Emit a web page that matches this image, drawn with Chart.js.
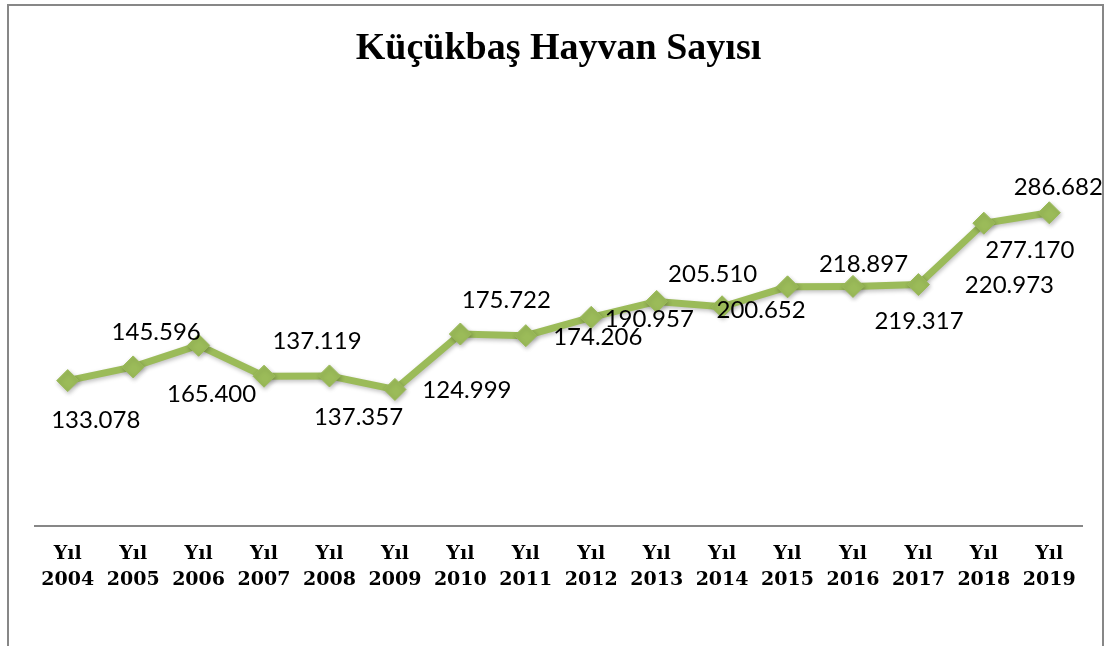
<!DOCTYPE html>
<html><head><meta charset="utf-8">
<script src="https://cdn.jsdelivr.net/npm/chart.js@4"></script>
<style>html,body{margin:0;padding:0;background:#fff}#wrap{width:1109px;height:646px;position:relative}</style>
</head><body><div id="wrap"><canvas id="c" width="1109" height="646"></canvas></div>
<script>
const categoryPrefix = "Yıl";
const years = ["2004","2005","2006","2007","2008","2009","2010","2011","2012","2013","2014","2015","2016","2017","2018","2019"];
const values = [133.078,145.596,165.400,137.119,137.357,124.999,175.722,174.206,190.957,205.510,200.652,218.897,219.317,220.973,277.170,286.682];
const valueLabels = ["133.078","145.596","165.400","137.119","137.357","124.999","175.722","174.206","190.957","205.510","200.652","218.897","219.317","220.973","277.170","286.682"];
const chartTitle = "Küçükbaş Hayvan Sayısı";
// label placement offsets (layout only)
const labelOffsets = [[28,40],[23,-35],[13,49],[53,-35],[29,41],[72,1],[46,-34],[72,2],[58,2],[56,-27],[39,3],[76,-23],[66,35],[91,1],[46,27],[9,-26]];

const labels = years.map(y => [categoryPrefix, y]);
const GREEN = '#9BBB59';

const framePlugin = {
  id:'frame',
  beforeDraw(chart){
    const ctx = chart.ctx;
    ctx.save();
    ctx.fillStyle='#fff'; ctx.fillRect(0,0,chart.width,chart.height);
    ctx.strokeStyle='#878787'; ctx.lineWidth=2;
    ctx.strokeRect(8,5,1095,700);
    ctx.restore();
  }
};
const labelPlugin = {
  id:'vlabels',
  afterDatasetsDraw(chart){
    const ctx = chart.ctx;
    const meta = chart.getDatasetMeta(0);
    ctx.save();
    ctx.font = '24px Lato';
    ctx.fillStyle = '#000';
    ctx.textAlign='center'; ctx.textBaseline='middle';
    meta.data.forEach((pt,i)=>{
      const o = labelOffsets[i];
      ctx.fillText(valueLabels[i], pt.x+o[0], pt.y+o[1]);
    });
    ctx.restore();
  }
};
const shadowPlugin = {
  id:'shadow',
  beforeDatasetsDraw(chart){ const c=chart.ctx; c.save(); c.shadowColor='rgba(0,0,0,0.25)'; c.shadowBlur=4; c.shadowOffsetX=1; c.shadowOffsetY=2; },
  afterDatasetsDraw(chart){ chart.ctx.restore(); }
};

new Chart(document.getElementById('c'), {
  type:'line',
  data:{ labels, datasets:[{ data: values, borderColor:GREEN, backgroundColor:GREEN, borderWidth:7,
    pointStyle:'rectRot', pointRadius:11, pointHoverRadius:11, pointBackgroundColor:GREEN, pointBorderColor:GREEN, pointBorderWidth:1, tension:0, fill:false }]},
  options:{
    responsive:false, animation:false, devicePixelRatio:1,
    layout:{ padding:{ left:35, right:27, top:0, bottom:0 } },
    plugins:{
      legend:{display:false}, tooltip:{enabled:false},
      title:{ display:true, text:chartTitle, color:'#000', font:{family:'Liberation Serif', size:38, weight:'bold', lineHeight:1.2}, padding:{top:26, bottom:72} }
    },
    scales:{
      y:{ display:false, min:0, max:350 },
      x:{ offset:true,
        grid:{ display:false, drawTicks:false },
        border:{ display:true, color:'#878787', width:2 },
        ticks:{ color:'#000', font:{ family:'DejaVu Serif', size:19, weight:'bold', lineHeight:1.32 }, padding:16, maxRotation:0, autoSkip:false },
        afterFit(s){ s.height = 646-526; }
      }
    }
  },
  plugins:[framePlugin, shadowPlugin, labelPlugin]
});
</script></body></html>
